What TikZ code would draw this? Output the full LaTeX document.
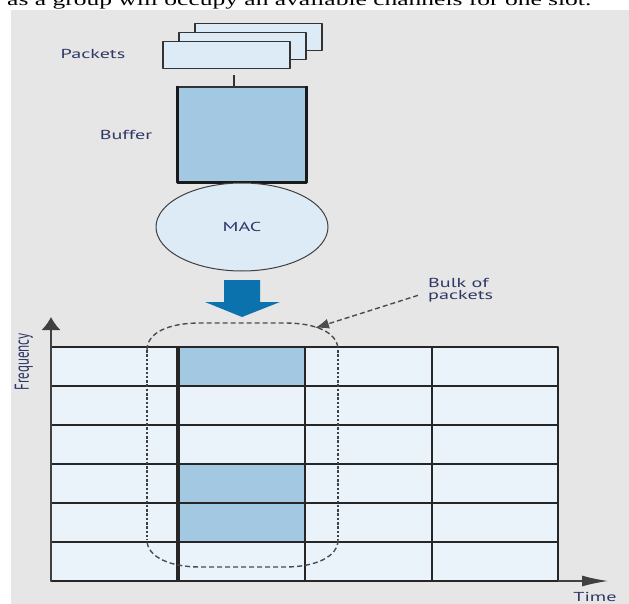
\documentclass[tikz,border=0pt]{standalone}
\usepackage{fontspec}
\setmainfont{Liberation Serif}
\newfontfamily\labelfont[FakeStretch=1.55]{PT Sans}
\newfontfamily\plainlabel{PT Sans}
\newfontfamily\linefont[FakeStretch=1.5]{Liberation Serif}
\usetikzlibrary{shapes.geometric,arrows.meta}
\definecolor{panel}{HTML}{E6E6E6}
\definecolor{pale}{HTML}{DDEBF7}
\definecolor{cellfill}{HTML}{EBF3FA}
\definecolor{slotfill}{HTML}{A2C8E2}
\definecolor{macarrow}{HTML}{0B72AE}
\definecolor{ink}{HTML}{2E3766}
\begin{document}
\begin{tikzpicture}[x=1pt,y=-1pt,line join=round,
		lbl/.style={font=\labelfont\fontsize{13}{12.5}\selectfont,text=ink,inner sep=0pt},
		pkt/.style={draw=black!80,fill=pale,line width=1.3pt,minimum width=127pt,minimum height=27pt,inner sep=0pt},
		grid line/.style={black!85,line width=1.3pt},
		bulk/.style={black!70,line width=1.4pt,dash pattern=on 5pt off 3pt},
		bulk side/.style={black!75,line width=1.6pt,dash pattern=on 2.5pt off 1.8pt}]
	\useasboundingbox (0,0) rectangle (629,604);
	\clip (0,0) rectangle (629,604);
	\fill[panel] (11,10) rectangle (629,604);
	\node[anchor=base west,inner sep=0pt,font=\linefont\fontsize{17}{18}\selectfont] (sentence) at (7,6) {as a group will occupy an available channels for one slot.};
	% packets, buffer and MAC
	\node[pkt] (pk3) at (258.5,37) {};
	\node[pkt] (pk2) at (242.5,46) {};
	\node[pkt] (pk1) at (226.5,55) {};
	\node[lbl] (pklbl) at (93,54) {Packets};
	\node[pkt,fill=slotfill,minimum width=128pt,minimum height=95pt] (buf) at (242,134.5) {};
	\draw[line width=3.2pt,black!90] (buf.north west) -- (buf.south west) -- (buf.south east) -- (buf.north east);
	\node[lbl] (buflbl) at (126,135) {Buffer};
	\draw[line width=1.2pt,black!80] ([xshift=7.5pt,yshift=-6pt]pk1.south) -- ([xshift=7.5pt]pk1.south |- buf.north);
	\node[lbl,ellipse,draw=black!75,fill=pale,line width=1pt,minimum width=172pt,minimum height=88pt] (mac) at (242,227) {MAC};
	\fill[macarrow] (224,280) -- (260,280) -- (260,302) -- (280,302) -- (242,317) -- (205,302) -- (224,302) -- cycle;
	% channels over time
	\def\h{39}
	\fill[cellfill] (51,347) rectangle (558,581);
	\foreach \r in {0,3,4}
		\fill[slotfill] (178,{347+\h*\r}) rectangle (305,{347+\h*(\r+1)});
	\foreach \r in {1,...,5}
		\draw[grid line] (51,{347+\h*\r}) -- (558,{347+\h*\r});
	\foreach \x in {305,432}
		\draw[grid line] (\x,347) -- (\x,581);
	\draw[grid line,line width=1.8pt] (51,347) rectangle (558,581);
	\draw[grid line,line width=3.5pt] (178,347) -- (178,581);
	\draw[black!75,line width=1.3pt,-{Latex[length=13pt,width=19pt]}] (51,581) -- (51,317);
	\draw[black!75,line width=1.3pt,-{Latex[length=26pt,width=11pt]}] (558,581) -- (608,581);
	\node[lbl,font=\plainlabel\fontsize{13}{13}\selectfont,rotate=90] (freq) at (24,362) {\scalebox{1}[1.55]{Frequency}};
	\node[lbl,anchor=north] (time) at (595,592) {Time};
	% bulk of packets
	\draw[bulk] (147,350) .. controls (147,332) and (170,323) .. (200,323) -- (285,323) .. controls (315,323) and (338,332) .. (338,350);
	\draw[bulk] (338,540) .. controls (338,557) and (315,567) .. (285,567) -- (200,567) .. controls (170,567) and (147,557) .. (147,540);
	\foreach \x in {147,338}
		\draw[bulk side] (\x,350) -- (\x,540);
	\node[lbl,align=left,anchor=north west] (bulk) at (428,278) {Bulk of\\packets};
	\coordinate (bulktip) at (315,328);
	\draw[bulk,-{Latex[length=14pt,width=10pt]}] ([xshift=-10pt,yshift=-5pt]bulk.west) -- (bulktip);
\end{tikzpicture}
\end{document}
